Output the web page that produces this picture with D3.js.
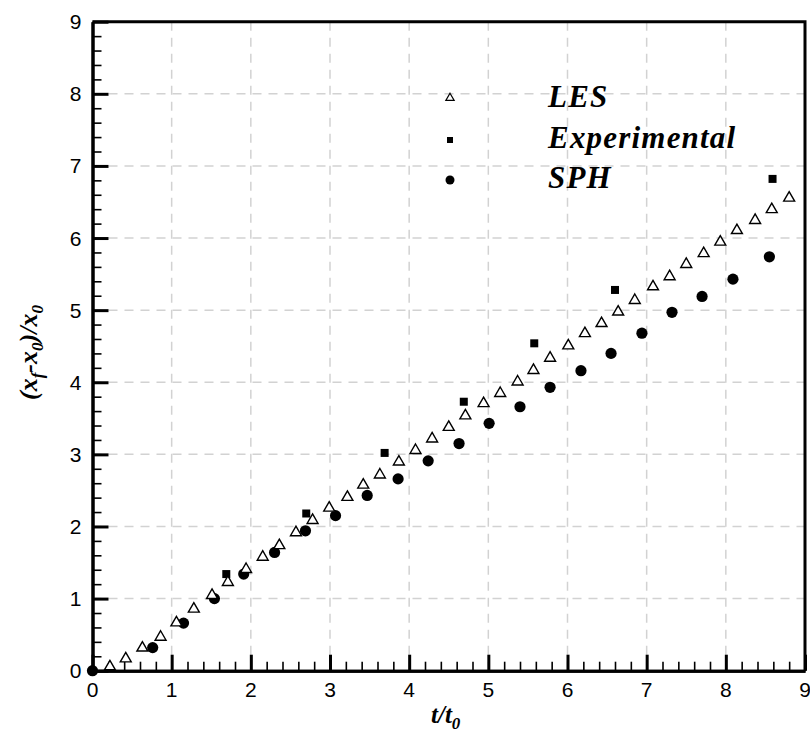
<!DOCTYPE html>
<html lang="en">
<head>
    <meta charset="UTF-8">
    <title>Front position vs time</title>
    <style>
        body, html {
            margin: 0;
            padding: 0;
            background: #fff;
            overflow: hidden;
        }
        .tick-label {
            font: 21px "Liberation Sans", Arial, sans-serif;
            fill: #000;
        }
        .title {
            font-family: "Liberation Serif", "Times New Roman", serif;
            font-style: italic;
            font-weight: bold;
            fill: #000;
        }
        .grid line {
            stroke: #d2d2d2;
            stroke-width: 1.5px;
            stroke-dasharray: 9, 7;
        }
        .axis line, .axis path {
            stroke: #000;
        }
    </style>
</head>
<body>
    <script src="https://cdn.jsdelivr.net/npm/d3@7"></script>
    <script>
        // values
        const lesT = [0.22, 0.42, 0.63, 0.86, 1.06, 1.28, 1.51, 1.71, 1.94, 2.15, 2.36, 2.57, 2.78, 2.99,
            3.22, 3.42, 3.63, 3.87, 4.08, 4.29, 4.50, 4.71, 4.94, 5.15, 5.37, 5.57, 5.78, 6.01, 6.22,
            6.43, 6.64, 6.85, 7.08, 7.29, 7.50, 7.72, 7.93, 8.14, 8.37, 8.58, 8.80];
        const lesV = [0.07, 0.18, 0.33, 0.48, 0.68, 0.87, 1.06, 1.24, 1.42, 1.59, 1.75, 1.93, 2.10, 2.27,
            2.42, 2.59, 2.73, 2.91, 3.07, 3.23, 3.39, 3.55, 3.72, 3.86, 4.02, 4.18, 4.35, 4.52, 4.69,
            4.83, 4.99, 5.15, 5.34, 5.48, 5.65, 5.80, 5.96, 6.12, 6.26, 6.41, 6.57];

        const expT = [1.69, 2.70, 3.69, 4.69, 5.58, 6.60, 8.59];
        const expV = [1.34, 2.18, 3.02, 3.73, 4.54, 5.28, 6.82];

        const sphT = [0.00, 0.76, 1.15, 1.54, 1.91, 2.30, 2.69, 3.07, 3.47, 3.86, 4.24, 4.63, 5.01,
            5.40, 5.78, 6.17, 6.55, 6.94, 7.32, 7.70, 8.09, 8.55];
        const sphV = [0.00, 0.32, 0.66, 1.00, 1.34, 1.64, 1.94, 2.15, 2.43, 2.66, 2.91, 3.15, 3.43,
            3.66, 3.93, 4.16, 4.40, 4.68, 4.97, 5.19, 5.43, 5.74];

        const xTicks = [0, 1, 2, 3, 4, 5, 6, 7, 8, 9];
        const yTicks = [0, 1, 2, 3, 4, 5, 6, 7, 8, 9];
        const legendNames = ["LES", "Experimental", "SPH"];

        const width = 810, height = 734;
        const margin = { top: 21.7, right: 5, bottom: 63.3, left: 92.5 };

        const svg = d3.select("body").append("svg")
            .attr("width", width)
            .attr("height", height)
            .attr("viewBox", `0 0 ${width} ${height}`);

        const x = d3.scaleLinear().domain([0, 9]).range([margin.left, width - margin.right]);
        const y = d3.scaleLinear().domain([0, 9]).range([height - margin.bottom, margin.top]);

        // dashed grid at the major ticks
        const grid = svg.append("g").attr("class", "grid");
        grid.selectAll(".gx")
            .data(xTicks.slice(1, -1))
            .enter().append("line")
            .attr("x1", d => x(d)).attr("x2", d => x(d))
            .attr("y1", y(9)).attr("y2", y(0));
        grid.selectAll(".gy")
            .data(yTicks.slice(1, -1))
            .enter().append("line")
            .attr("x1", x(0)).attr("x2", x(9))
            .attr("y1", d => y(d)).attr("y2", d => y(d));

        // axes: negative tick size so the ticks point into the plot
        const minor = d3.range(1, 45).map(i => i / 5)
            .filter(v => Math.abs(v - Math.round(v)) > 1e-6);

        const xMinor = svg.append("g").attr("class", "axis")
            .attr("transform", `translate(0,${y(0)})`)
            .call(d3.axisBottom(x).tickValues(minor).tickSizeInner(-9).tickSizeOuter(0).tickFormat(""));
        xMinor.selectAll("line").attr("stroke-width", 1.6);
        const xMajor = svg.append("g").attr("class", "axis")
            .attr("transform", `translate(0,${y(0)})`)
            .call(d3.axisBottom(x).tickValues(xTicks).tickSizeInner(-16).tickSizeOuter(0).tickFormat(""));
        xMajor.selectAll("line").attr("stroke-width", 3);

        const yMinor = svg.append("g").attr("class", "axis")
            .attr("transform", `translate(${x(0)},0)`)
            .call(d3.axisLeft(y).tickValues(minor).tickSizeInner(-9).tickSizeOuter(0).tickFormat(""));
        yMinor.selectAll("line").attr("stroke-width", 1.6);
        const yMajor = svg.append("g").attr("class", "axis")
            .attr("transform", `translate(${x(0)},0)`)
            .call(d3.axisLeft(y).tickValues(yTicks).tickSizeInner(-16).tickSizeOuter(0).tickFormat(""));
        yMajor.selectAll("line").attr("stroke-width", 3);
        svg.selectAll(".axis .domain").attr("stroke-width", 3);

        // top and right edges of the frame
        svg.append("path")
            .attr("d", `M${x(0)},${y(9)}H${x(9)}V${y(0)}`)
            .attr("fill", "none")
            .attr("stroke", "#000")
            .attr("stroke-width", 3);

        svg.selectAll(".xl")
            .data(xTicks)
            .enter().append("text")
            .attr("class", "tick-label")
            .attr("x", d => x(d))
            .attr("y", y(0) + 26)
            .attr("text-anchor", "middle")
            .text(d => d);

        svg.selectAll(".yl")
            .data(yTicks)
            .enter().append("text")
            .attr("class", "tick-label")
            .attr("x", x(0) - 11)
            .attr("y", d => y(d) + 7.5)
            .attr("text-anchor", "end")
            .text(d => d);

        // markers
        const tri = d3.symbol().type(d3.symbolTriangle).size(52);
        const les = lesT.map((t, i) => [t, lesV[i]]);
        const exp = expT.map((t, i) => [t, expV[i]]);
        const sph = sphT.map((t, i) => [t, sphV[i]]);

        svg.selectAll(".sph")
            .data(sph)
            .enter().append("circle")
            .attr("cx", d => x(d[0]))
            .attr("cy", d => y(d[1]))
            .attr("r", 5.6)
            .attr("fill", "#000");

        svg.selectAll(".exp")
            .data(exp)
            .enter().append("rect")
            .attr("x", d => x(d[0]) - 4)
            .attr("y", d => y(d[1]) - 4)
            .attr("width", 8)
            .attr("height", 8)
            .attr("fill", "#000");

        svg.selectAll(".les")
            .data(les)
            .enter().append("path")
            .attr("d", tri)
            .attr("transform", d => `translate(${x(d[0])},${y(d[1]) + 1})`)
            .attr("fill", "#fff")
            .attr("stroke", "#000")
            .attr("stroke-width", 1.4);

        // legend
        const lg = svg.append("g");
        lg.append("path")
            .attr("d", d3.symbol().type(d3.symbolTriangle).size(30))
            .attr("transform", "translate(450,98)")
            .attr("fill", "#fff").attr("stroke", "#000").attr("stroke-width", 1.2);
        lg.append("rect")
            .attr("x", 447).attr("y", 137).attr("width", 6).attr("height", 6)
            .attr("fill", "#000");
        lg.append("circle")
            .attr("cx", 450).attr("cy", 180).attr("r", 4.5)
            .attr("fill", "#000");
        lg.selectAll(".lt")
            .data(legendNames)
            .enter().append("text")
            .attr("class", "title")
            .attr("x", 548)
            .attr("y", (d, i) => 107 + i * 40.5)
            .style("font-size", "31px")
            .style("letter-spacing", "1.2px")
            .text(d => d);

        // axis titles
        const xt = svg.append("text")
            .attr("class", "title")
            .attr("x", 431)
            .attr("y", 723)
            .style("font-size", "25px");
        xt.append("tspan").text("t/t");
        xt.append("tspan").attr("dy", 6).style("font-size", "17px").text("0");

        const yt = svg.append("text")
            .attr("class", "title")
            .attr("transform", "translate(37,400) rotate(-90)")
            .style("font-size", "26px");
        yt.append("tspan").text("(x");
        yt.append("tspan").attr("dy", 6).style("font-size", "17px").text("f");
        yt.append("tspan").attr("dy", -6).text("-x");
        yt.append("tspan").attr("dy", 6).style("font-size", "17px").text("0");
        yt.append("tspan").attr("dy", -6).text(")/x");
        yt.append("tspan").attr("dy", 6).style("font-size", "17px").text("0");
    </script>
</body>
</html>
